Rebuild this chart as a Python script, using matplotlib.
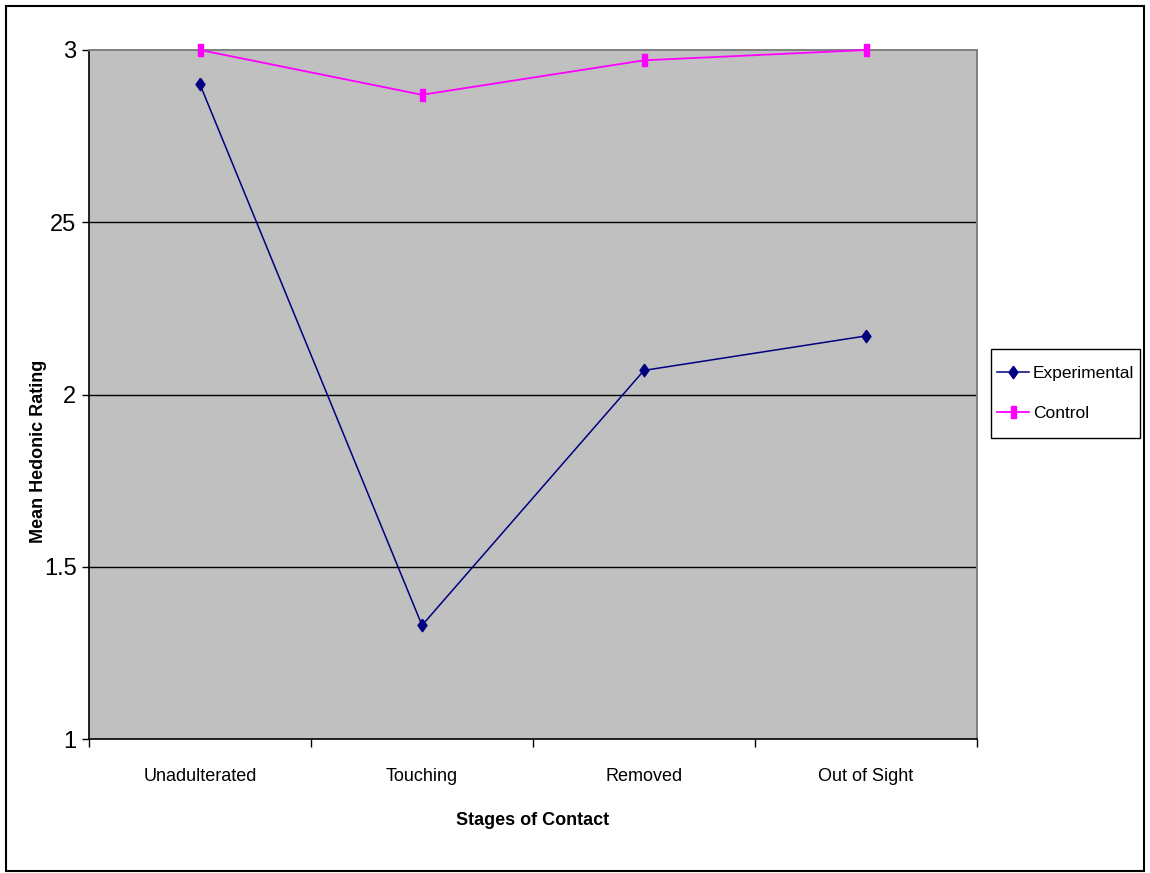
import matplotlib.pyplot as plt
from matplotlib.patches import Rectangle

# Mean hedonic ratings by stage of contact
stages = ["Unadulterated", "Touching", "Removed", "Out of Sight"]
experimental = [2.90, 1.33, 2.07, 2.17]
control = [3.00, 2.87, 2.97, 3.00]
y_ticks = [1, 1.5, 2, 2.5, 3]
y_tick_labels = ["1", "1.5", "2", "25", "3"]

plt.rcParams["font.family"] = ["Liberation Sans", "DejaVu Sans"]

# tall, narrow marker shapes
diamond = [(0, 1), (0.72, 0), (0, -1), (-0.72, 0), (0, 1)]
tall_square = [(-0.45, -1), (0.45, -1), (0.45, 1), (-0.45, 1), (-0.45, -1)]

W, H = 1150, 873
fig = plt.figure(figsize=(W / 100, H / 100), dpi=100)
ax = fig.add_axes([89 / W, 1 - 739 / H, (977 - 89) / W, (739 - 50) / H])
ax.set_facecolor("#c0c0c0")

# outer chart border
fig.patches.append(Rectangle((6 / W, 1 - 871 / H), 1138 / W, 865 / H,
                             transform=fig.transFigure, fill=False,
                             edgecolor="black", linewidth=1.5))

x = list(range(len(stages)))
for y in [1.5, 2, 2.5]:
    ax.axhline(y, color="black", linewidth=1.0, zorder=1)

ax.plot(x, experimental, color="#000080", linewidth=1.1, marker=diamond,
        markersize=9, markerfacecolor="#000080", markeredgecolor="#000080",
        label="Experimental", zorder=3, clip_on=False)
ax.plot(x, control, color="#ff00ff", linewidth=1.3, marker=tall_square,
        markersize=8, markerfacecolor="#ff00ff", markeredgecolor="#ff00ff",
        label="Control", zorder=3, clip_on=False)

ax.set_xlim(-0.5, 3.5)
ax.set_ylim(1, 3)
ax.set_yticks(y_ticks)
ax.set_yticklabels(y_tick_labels)
ax.set_xticks(x)
ax.set_xticklabels(stages)
ax.set_xticks([-0.5, 0.5, 1.5, 2.5, 3.5], minor=True)
ax.tick_params(axis="x", which="major", length=0, pad=21, labelsize=13)
ax.tick_params(axis="x", which="minor", length=6, width=1, direction="out")
ax.tick_params(axis="y", length=5, width=1, direction="out", pad=4, labelsize=17)

for side in ["left", "bottom"]:
    ax.spines[side].set_color("black")
    ax.spines[side].set_linewidth(1.2)
for side in ["top", "right"]:
    ax.spines[side].set_color("#808080")
    ax.spines[side].set_linewidth(1.4)

ax.set_xlabel("Stages of Contact", fontsize=13, fontweight="bold", labelpad=19)
ax.set_ylabel("Mean Hedonic Rating", fontsize=13, fontweight="bold")
ax.yaxis.set_label_coords(-0.047, 0.417)

# legend box drawn separately so its size stays fixed
lx0, ly0, lx1, ly1 = 991, 349, 1140, 438
fig.patches.append(Rectangle((lx0 / W, 1 - ly1 / H), (lx1 - lx0) / W, (ly1 - ly0) / H,
                             transform=fig.transFigure, fill=False,
                             edgecolor="black", linewidth=1.0))
leg = fig.legend(loc="center", bbox_to_anchor=((lx0 + lx1) / 2 / W, 1 - (ly0 + ly1) / 2 / H),
                 fontsize=12.5, frameon=False, handlelength=1.85,
                 borderpad=0, labelspacing=1.4, handletextpad=0.25,
                 borderaxespad=0)

fig.savefig("out.png", dpi=100, facecolor="white")
